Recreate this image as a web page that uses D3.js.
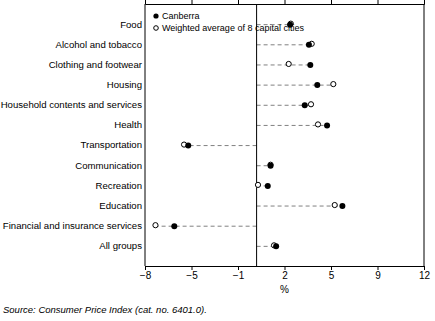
<!DOCTYPE html>
<html>
<head>
<meta charset="utf-8">
<title>CPI by group, Canberra vs capital cities</title>
<script src="https://cdn.jsdelivr.net/npm/d3@7"></script>
<style>
  body { margin: 0; background: #fff; }
  svg text { font-family: "Liberation Sans", Arial, sans-serif; fill: #000; }
</style>
</head>
<body>
<div id="chart"></div>
<script>
// data (% change)
var groups = ["Food", "Alcohol and tobacco", "Clothing and footwear", "Housing",
  "Household contents and services", "Health", "Transportation", "Communication",
  "Recreation", "Education", "Financial and insurance services", "All groups"];
var canberra = [2.4, 3.75, 3.85, 4.35, 3.45, 5.05, -4.9, 1.0, 0.8, 6.15, -5.9, 1.4];
var capitals = [2.45, 3.95, 2.3, 5.5, 3.9, 4.4, -5.2, 1.0, 0.1, 5.6, -7.25, 1.25];
var tickLabels = ["\u22128", "\u22125", "\u22121", "2", "5", "9", "12"];
var xDomain = [-8, 12];

// layout
var W = 435, H = 321;
var margin = {top: 4, right: 11, bottom: 55, left: 145};
var width = W - margin.left - margin.right,
    height = H - margin.top - margin.bottom;

var svg = d3.select("#chart").append("svg")
    .attr("width", W)
    .attr("height", H);

var g = svg.append("g")
    .attr("transform", "translate(" + margin.left + "," + margin.top + ")");

var x = d3.scaleLinear().domain(xDomain).range([0, width]);
var y = d3.scalePoint().domain(groups).range([0, height]).padding(1);

// evenly spaced ticks, labels are rounded in the original
var tickVals = tickLabels.map(function(d, i) {
  return xDomain[0] + i * (xDomain[1] - xDomain[0]) / (tickLabels.length - 1);
});

// dashed guide from zero to the furthest point
g.selectAll(".guide")
    .data(groups)
  .enter().append("line")
    .attr("class", "guide")
    .attr("x1", x(0))
    .attr("x2", function(d, i) {
      var a = canberra[i], b = capitals[i];
      return x(Math.abs(a) > Math.abs(b) ? a : b);
    })
    .attr("y1", function(d) { return y(d) + 0.5; })
    .attr("y2", function(d) { return y(d) + 0.5; })
    .attr("stroke", "#808080")
    .attr("stroke-width", 1)
    .attr("stroke-dasharray", "4,3");

// axes
var bottom = g.append("g")
    .attr("transform", "translate(0," + height + ")")
    .call(d3.axisBottom(x).tickValues(tickVals)
      .tickFormat(function(d, i) { return tickLabels[i]; })
      .tickSize(4).tickPadding(2));
bottom.selectAll("text").style("font-size", "10px");

g.append("g")
    .call(d3.axisTop(x).tickValues(tickVals).tickFormat("").tickSize(4));

g.selectAll(".domain").attr("stroke", "#000");
g.selectAll(".tick line").attr("stroke", "#000");

// left and right frame, zero line
g.append("line").attr("x1", 0).attr("x2", 0).attr("y1", 0).attr("y2", height)
    .attr("stroke", "#000");
g.append("line").attr("x1", width).attr("x2", width).attr("y1", 0).attr("y2", height)
    .attr("stroke", "#000");
g.append("line").attr("x1", x(0)).attr("x2", x(0)).attr("y1", 0).attr("y2", height)
    .attr("stroke", "#000");

// category labels
g.selectAll(".cat")
    .data(groups)
  .enter().append("text")
    .attr("class", "cat")
    .attr("x", -3)
    .attr("y", function(d) { return y(d); })
    .attr("dy", "0.35em")
    .attr("text-anchor", "end")
    .style("font-size", "9.6px")
    .text(function(d) { return d; });

// points: open circles first, filled on top
g.selectAll(".cap")
    .data(capitals)
  .enter().append("circle")
    .attr("class", "cap")
    .attr("cx", function(d) { return x(d); })
    .attr("cy", function(d, i) { return y(groups[i]) - 0.5; })
    .attr("r", 2.6)
    .attr("fill", "#fff")
    .attr("stroke", "#000")
    .attr("stroke-width", 1);

g.selectAll(".can")
    .data(canberra)
  .enter().append("circle")
    .attr("class", "can")
    .attr("cx", function(d) { return x(d); })
    .attr("cy", function(d, i) { return y(groups[i]) + 0.5; })
    .attr("r", 3)
    .attr("fill", "#000");

// legend
var legend = g.append("g").attr("transform", "translate(11,12)");
legend.append("circle").attr("cx", 0).attr("cy", 0).attr("r", 2.6).attr("fill", "#000");
legend.append("text").attr("x", 6).attr("y", 0).attr("dy", "0.35em")
    .style("font-size", "9px").text("Canberra");
legend.append("circle").attr("cx", 0).attr("cy", 12).attr("r", 2.3)
    .attr("fill", "#fff").attr("stroke", "#000");
legend.append("text").attr("x", 6).attr("y", 12).attr("dy", "0.35em")
    .style("font-size", "9px").text("Weighted average of 8 capital cities");

// axis title
g.append("text")
    .attr("x", x(2))
    .attr("y", height + 27)
    .attr("text-anchor", "middle")
    .style("font-size", "10px")
    .text("%");

// source
svg.append("text")
    .attr("x", 3)
    .attr("y", 313)
    .style("font-size", "9.5px")
    .style("font-style", "italic")
    .text("Source: Consumer Price Index (cat. no. 6401.0).");
</script>
</body>
</html>
